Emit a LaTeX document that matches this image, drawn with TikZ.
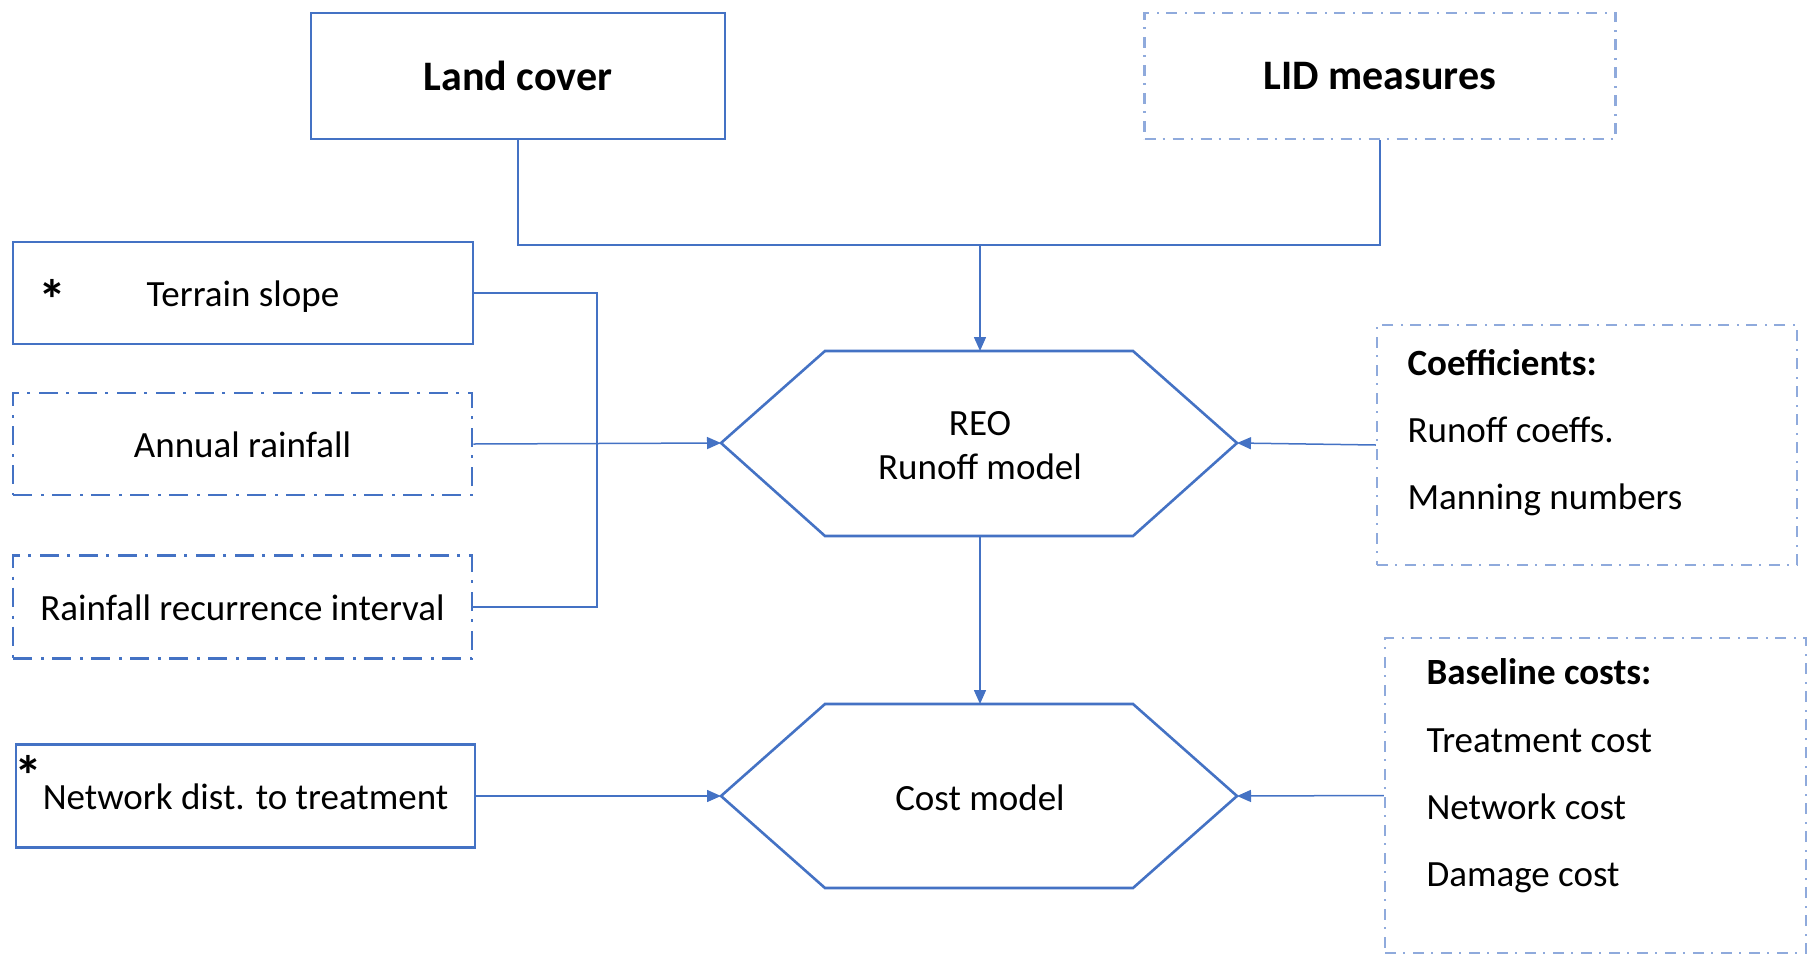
\documentclass[tikz,border=0pt]{standalone}
\usepackage{fontspec}
\setmainfont{Carlito}
\usetikzlibrary{arrows.meta}
\definecolor{obl}{RGB}{68,114,196}
\definecolor{lbl}{RGB}{143,170,220}
\begin{document}
\begin{tikzpicture}[x=1pt,y=-1pt,
  solidbox/.style={draw=obl,line width=2.8pt,minimum width=#1,inner sep=0pt},
  dashbox/.style={draw=obl,line width=2.6pt,dash pattern=on 19pt off 9pt on 3pt off 8pt,inner sep=0pt},
  lightbox/.style={draw=lbl,line width=2.2pt,dash pattern=on 11pt off 7pt on 2pt off 8pt,inner sep=0pt},
  txt/.style={font=\fontsize{37}{44}\selectfont,text height=26pt,text depth=0pt},
  ttl/.style={font=\fontsize{42}{50}\selectfont\bfseries},
  astk/.style={font=\fontsize{56}{60}\selectfont\bfseries,inner sep=0pt},
  conn/.style={draw=obl,line width=1.5pt},
  arr/.style={conn,-{Triangle[length=14pt,width=12pt]}},
  hexs/.style={draw=obl,line width=2.6pt,line join=miter}
]
\useasboundingbox (0,0) rectangle (1818,959);
% top boxes
\node[solidbox=414pt,minimum height=126pt,ttl] (land) at (518,76) {Land cover};
\node[lightbox,minimum width=471pt,minimum height=126pt,ttl] (lid) at (1380,76) {LID measures};
% left boxes
\node[solidbox=460pt,minimum height=102pt,txt] (terrain) at (243,293) {Terrain slope};
\node[astk] (ast1) at (52,299) {*};
\node[dashbox,minimum width=459pt,minimum height=102pt,txt] (annual) at (242.5,444) {Annual rainfall};
\node[dashbox,minimum width=459pt,minimum height=103pt,txt] (recur) at (242.5,607) {Rainfall recurrence interval};
\node[solidbox=459pt,minimum height=103pt,txt] (network) at (245.5,796) {Network dist. to treatment};
\node[astk] (ast2) at (28,775) {*};
% hexagons
\coordinate (h1w) at (721,443);
\coordinate (h1e) at (1237,443);
\coordinate (h1n) at (980,351);
\coordinate (h1s) at (980,536);
\draw[hexs] (h1w) -- (825,351) -- (1133,351) -- (h1e) -- (1133,536) -- (825,536) -- cycle;
\node[font=\fontsize{37}{44}\selectfont,align=center] (reo) at (980,446) {REO\\Runoff model};
\coordinate (h2w) at (721,796);
\coordinate (h2e) at (1237,796);
\coordinate (h2n) at (980,704);
\draw[hexs] (h2w) -- (825,704) -- (1133,704) -- (h2e) -- (1133,888) -- (825,888) -- cycle;
\node[txt] (cost) at (980,797) {Cost model};
% right boxes
\node[lightbox,minimum width=420pt,minimum height=240pt] (coef) at (1587,445) {};
\node[anchor=base west,font=\fontsize{37}{44}\selectfont\bfseries] (c1) at (1404,375) {Coefficients:};
\node[txt,anchor=base west] (c2) at (1404,442) {Runoff coeffs.};
\node[txt,anchor=base west] (c3) at (1404,509) {Manning numbers};
\node[lightbox,minimum width=421pt,minimum height=315pt] (base) at (1595.5,795.5) {};
\node[anchor=base west,font=\fontsize{37}{44}\selectfont\bfseries] (b1) at (1423,684) {Baseline costs:};
\node[txt,anchor=base west] (b2) at (1423,752) {Treatment cost};
\node[txt,anchor=base west] (b3) at (1423,819) {Network cost};
\node[txt,anchor=base west] (b4) at (1423,886) {Damage cost};
% connectors
\coordinate (join) at (980,245);
\draw[conn] (land.south) -- (land.south |- join) -- (lid.south |- join) -- (lid.south);
\draw[arr] (join) -- (h1n);
\coordinate (vbar) at (597,293);
\draw[conn] (terrain.east) -- (vbar) -- (vbar |- recur.east) -- (recur.east);
\draw[arr] (annual.east) -- (h1w);
\draw[arr] (coef.west) -- (h1e);
\draw[arr] (h1s) -- (h2n);
\draw[arr] (network.east) -- (h2w);
\draw[arr] (base.west) -- (h2e);
\end{tikzpicture}
\end{document}
